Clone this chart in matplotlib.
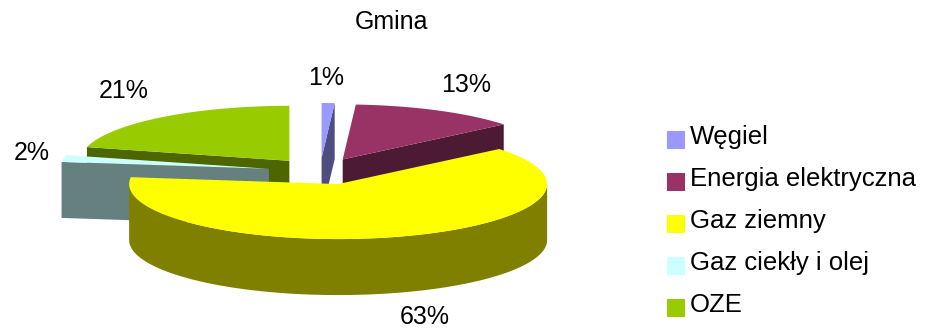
import numpy as np
import matplotlib
matplotlib.use('Agg')
from matplotlib import pyplot as plt
from matplotlib.colors import to_rgb
from matplotlib.patches import Polygon, Rectangle

plt.rcParams['font.family'] = ['Liberation Sans', 'DejaVu Sans']

title = 'Gmina'
categories = ['Węgiel', 'Energia elektryczna', 'Gaz ziemny', 'Gaz ciekły i olej', 'OZE']
values = [1, 13, 63, 2, 21]
colors = ['#9999FF', '#993366', '#FFFF00', '#CCFFFF', '#99CC00']

# pie geometry, in pixels of the picture
cx, cy = 320, 171.3
rx, ry = 209, 55
depth = 56
explode_x = [50, 50, 65, 52, 50]
explode_y = 13.3

# label centres, same order as the categories
label_x = [326, 466, 425, 32, 124]
label_y = [78, 85, 317, 153, 91]

fig = plt.figure(figsize=(9.26, 3.33), dpi=100)
ax = fig.add_axes([0, 0, 1, 1])
ax.set_xlim(0, 926)
ax.set_ylim(333, 0)
ax.axis('off')


def rim(x0, y0, a, b):
    t = np.radians(np.linspace(a, b, 80))
    return np.column_stack([x0 + rx * np.sin(t), y0 - ry * np.cos(t)])


#Works out the angles, clockwise from 12 o'clock
edges = np.cumsum([0] + values) / sum(values) * 360
slices = []
for i in range(len(values)):
    a, b = edges[i], edges[i + 1]
    mid = np.radians((a + b) / 2)
    x0 = cx + explode_x[i] * np.sin(mid)
    y0 = cy - explode_y * np.cos(mid)
    slices.append((i, a, b, x0, y0))

#Back slices first so that the yellow one ends up in front
for i, a, b, x0, y0 in sorted(slices, key=lambda s: s[4]):
    top = to_rgb(colors[i])
    side = tuple(c * 0.5 for c in top)

    #Flat cut faces
    for ang, visible in ((a, np.sin(np.radians(a)) < -1e-6), (b, np.sin(np.radians(b)) > 1e-6)):
        if visible:
            p = rim(x0, y0, ang, ang)[0]
            quad = [(x0, y0), p, (p[0], p[1] + depth), (x0, y0 + depth)]
            ax.add_patch(Polygon(quad, closed=True, fc=side, ec='none'))

    #Outer wall, only the part that faces the viewer
    lo, hi = max(a, 90), min(b, 270)
    if lo < hi:
        r = rim(x0, y0, lo, hi)
        wall = np.vstack([r, (r + [0, depth])[::-1]])
        ax.add_patch(Polygon(wall, closed=True, fc=side, ec='none'))

    pts = np.vstack([[(x0, y0)], rim(x0, y0, a, b)])
    ax.add_patch(Polygon(pts, closed=True, fc=top, ec='none'))

#Percent labels
total = sum(values)
for i in range(len(values)):
    ax.text(label_x[i], label_y[i], '%d%%' % round(100 * values[i] / total),
            fontsize=18, ha='center', va='center', color='black')

ax.text(391, 22, title, fontsize=18, ha='center', va='center', color='black')

#Legend
for i, name in enumerate(categories):
    ax.add_patch(Rectangle((667, 131 + 42 * i), 18, 18, fc=colors[i], ec='none'))
    ax.text(690, 144 + 42.1 * i, name, fontsize=18.5, ha='left', va='baseline', color='black')

plt.savefig('out.png', dpi=100)
